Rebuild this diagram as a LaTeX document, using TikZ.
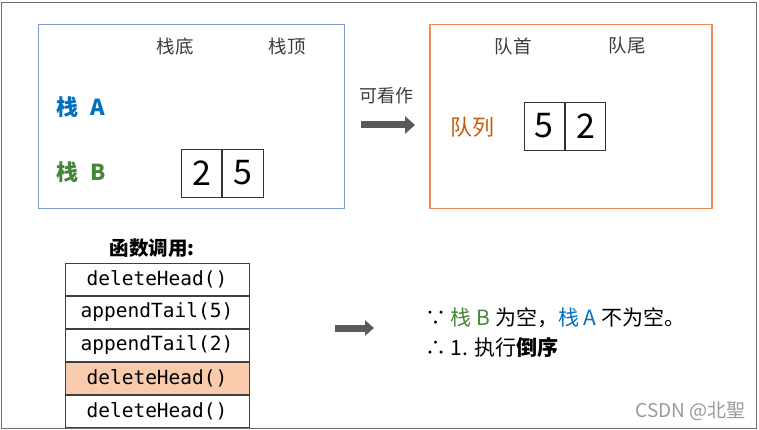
\documentclass[tikz,border=0pt]{standalone}
\usepackage{fontspec}
\setmainfont{Noto Sans CJK SC}
\newfontfamily\monof{DejaVu Sans Mono}
\usetikzlibrary{arrows.meta}
\definecolor{stackblue}{RGB}{0,112,192}
\definecolor{stackgreen}{RGB}{70,135,55}
\definecolor{qorange}{RGB}{197,90,17}
\definecolor{lboxc}{RGB}{124,157,203}
\definecolor{rboxc}{RGB}{240,140,80}
\definecolor{hlfill}{RGB}{248,203,173}
\definecolor{arrowgrey}{RGB}{89,89,89}
\definecolor{framegrey}{RGB}{110,110,110}
\definecolor{textgrey}{RGB}{60,60,60}
\tikzset{
  headlbl/.style={font=\fontsize{18.5}{18.5}\selectfont, text=textgrey, inner sep=0},
  numcell/.style={draw=black!80, line width=0.8pt, minimum width=40.5pt, minimum height=48pt, inner sep=0, font=\fontsize{34}{34}\selectfont},
  callcell/.style={draw=black!75, line width=1pt, minimum width=184pt, minimum height=32pt, inner sep=0, font=\monof\fontsize{19.5}{19.5}\selectfont},
  blockarrow/.style={arrowgrey, line width=7pt, -{Triangle[length=10pt,width=17pt]}, shorten >=-2pt},
  bigtxt/.style={font=\fontsize{21}{21}\selectfont, inner sep=0, anchor=west}
}
\begin{document}
\begin{tikzpicture}[x=1pt,y=-1pt]
\useasboundingbox (0,0) rectangle (759,430);
\draw[framegrey, line width=1.6pt] (1.5,2.5) rectangle (756.5,428.5);
% left box
\node[draw=lboxc, line width=1.3pt, minimum width=306pt, minimum height=184pt, inner sep=0] (lbox) at (191.5,116.5) {};
\node[headlbl] (bot) at (175,46) {栈底};
\node[headlbl] (top) at (287,46) {栈顶};
\node[font=\fontsize{22}{22}\selectfont\bfseries, text=stackblue, inner sep=0] (sa) at (81,107) {栈\hspace{12pt}A};
\node[font=\fontsize{22}{22}\selectfont\bfseries, text=stackgreen, inner sep=0] (sb) at (81,172) {栈\hspace{12pt}B};
\node[numcell] (b1) at (201.5,173) {2};
\node[numcell, anchor=west] (b2) at (b1.east) {5};
% middle
\node[font=\fontsize{18}{18}\selectfont, text=textgrey, inner sep=0] (see) at (386,96) {可看作};
\coordinate (a1s) at (361,125);
\coordinate (a1e) at (413,125);
\draw[blockarrow] (a1s) -- (a1e);
% right box
\node[draw=rboxc, line width=1.3pt, minimum width=282pt, minimum height=184pt, inner sep=0] (rbox) at (571,116.5) {};
\node[headlbl] (qh) at (513,46) {队首};
\node[headlbl] (qt) at (627,46) {队尾};
\node[font=\fontsize{22}{22}\selectfont, text=qorange, inner sep=0] (q) at (472,127) {队列};
\node[numcell] (q1) at (544.25,126) {5};
\node[numcell, anchor=west] (q2) at (q1.east) {2};
% calls
\node[font=\fontsize{19.5}{19.5}\selectfont\bfseries, inner sep=0] (calls) at (152,248) {函数调用:};
\node[callcell] (c1) at (157,279.5) {deleteHead()};
\node[callcell, anchor=north] (c2) at (c1.south) {appendTail(5)};
\node[callcell, anchor=north] (c3) at (c2.south) {appendTail(2)};
\node[callcell, anchor=north, fill=hlfill] (c4) at (c3.south) {deleteHead()};
\node[callcell, anchor=north] (c5) at (c4.south) {deleteHead()};
\coordinate (a2s) at (335,328);
\coordinate (a2e) at (372,328);
\draw[blockarrow, -{Triangle[length=9pt,width=15pt]}] (a2s) -- (a2e);
% reasoning text
\node[bigtxt] (l1) at (425,318) {∵ \textcolor{stackgreen}{栈 B} 为空，\textcolor{stackblue}{栈 A} 不为空。};
\node[bigtxt] (l2) at (425,347) {∴ 1. 执行\textbf{倒序}};
\node[font=\fontsize{19}{19}\selectfont, text=black!40, inner sep=0, anchor=east] (wm) at (746,411) {CSDN @北聖};
\end{tikzpicture}
\end{document}
